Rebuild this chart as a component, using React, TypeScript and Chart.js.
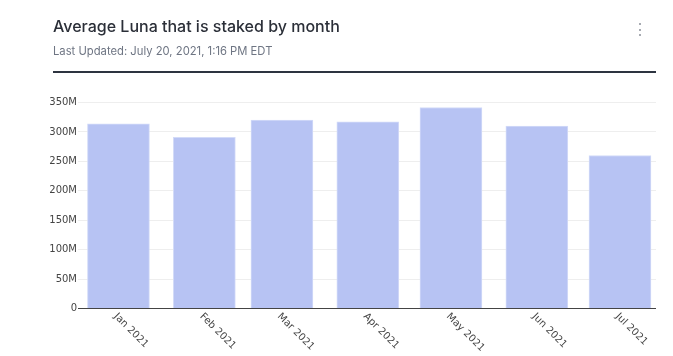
import React, { useEffect, useRef } from "react";
import { Chart, registerables } from "chart.js";

Chart.register(...registerables);

const TITLE = "Average Luna that is staked by month";
const SUBTITLE = "Last Updated: July 20, 2021, 1:16 PM EDT";

const monthDates = ["2021-01-01", "2021-02-01", "2021-03-01", "2021-04-01", "2021-05-01", "2021-06-01", "2021-07-01"];
const monthLabels = ["Jan 2021", "Feb 2021", "Mar 2021", "Apr 2021", "May 2021", "Jun 2021", "Jul 2021"];
const stakedLuna = [313.6e6, 291e6, 320e6, 317e6, 341.5e6, 310e6, 260e6];
const yTickValues = [0, 50e6, 100e6, 150e6, 200e6, 250e6, 300e6, 350e6];
const yTickLabels = ["0", "50M", "100M", "150M", "200M", "250M", "300M", "350M"];

const DAY = 86400000;
const baseTime = Date.UTC(2021, 0, 1);
const dayOffset = (d: string) => {
  const [y, m, dd] = d.split("-").map(Number);
  return (Date.UTC(y, m - 1, dd) - baseTime) / DAY;
};
const xValues = monthDates.map(dayOffset);

const TICK_FONT = "10px 'DejaVu Sans', Verdana, sans-serif";
const TICK_COLOR = "#444444";

const xLabelPlugin = {
  id: "xLabelPlugin",
  afterDraw(chart: any) {
    const ctx = chart.ctx;
    const xs = chart.scales.x;
    const bottom = chart.chartArea.bottom;
    ctx.save();
    ctx.font = TICK_FONT;
    ctx.fillStyle = TICK_COLOR;
    ctx.textAlign = "left";
    ctx.textBaseline = "middle";
    xValues.forEach((v, i) => {
      const px = xs.getPixelForValue(v);
      ctx.save();
      ctx.translate(px - 3, bottom + 6.5);
      ctx.rotate(Math.PI / 4);
      ctx.fillText(monthLabels[i], 0, 0);
      ctx.restore();
    });
    ctx.restore();
  },
};

function ChartCanvas() {
  const ref = useRef<HTMLCanvasElement | null>(null);
  useEffect(() => {
    if (!ref.current) return;
    const chart = new Chart(ref.current, {
      type: "bar",
      data: {
        datasets: [
          {
            data: xValues.map((x, i) => ({ x, y: stakedLuna[i] })),
            backgroundColor: "#b7c3f3",
            borderColor: "#d3dbf8",
            borderWidth: 1,
            barThickness: 62,
          },
        ],
      },
      options: {
        animation: false,
        responsive: false,
        devicePixelRatio: 1,
        layout: { padding: { left: 0, right: 17, top: 96.6, bottom: 0 } },
        plugins: { legend: { display: false }, tooltip: { enabled: false } },
        scales: {
          x: {
            type: "linear",
            offset: false,
            min: -14.6,
            max: 194,
            grid: { display: false },
            border: { display: false },
            ticks: { display: false },
            afterFit: (s: any) => {
              s.height = 47.5;
            },
          },
          y: {
            min: 0,
            max: 360e6,
            border: { display: false },
            grid: {
              drawTicks: false,
              color: (c: any) => (c.tick && c.tick.value === 0 ? "#444444" : "#eeeeee"),
              lineWidth: 1,
            },
            afterBuildTicks: (s: any) => {
              s.ticks = yTickValues.map((value) => ({ value }));
            },
            afterFit: (s: any) => {
              s.width = 78;
            },
            ticks: {
              padding: 1,
              color: TICK_COLOR,
              font: { family: "'DejaVu Sans', Verdana, sans-serif", size: 10 },
              callback: (v: any) => {
                const idx = yTickValues.indexOf(Number(v));
                return idx >= 0 ? yTickLabels[idx] : "";
              },
            },
          },
        },
      },
      plugins: [xLabelPlugin],
    });
    return () => chart.destroy();
  }, []);
  return <canvas ref={ref} width={673} height={356} style={{ position: "absolute", left: 0, top: 0 }} />;
}

export default function App() {
  return (
    <div
      style={{
        position: "fixed",
        left: 0,
        top: 0,
        width: 673,
        height: 356,
        background: "#ffffff",
        overflow: "hidden",
        fontFamily: "Inter, 'Noto Sans', sans-serif",
      }}
    >
      <ChartCanvas />
      <div
        style={{
          position: "absolute",
          left: 53,
          top: 17.5,
          fontSize: 16,
          fontWeight: 500,
          lineHeight: "16px",
          color: "#2b2f38",
          whiteSpace: "nowrap",
        }}
      >
        {TITLE}
      </div>
      <div
        style={{
          position: "absolute",
          left: 53,
          top: 45.5,
          fontSize: 11.25,
          lineHeight: "11px",
          color: "#6e7583",
          whiteSpace: "nowrap",
        }}
      >
        {SUBTITLE}
      </div>
      <div style={{ position: "absolute", left: 53, top: 71, width: 603, height: 2, background: "#2d3440" }} />
      {[23, 28.5, 34].map((t) => (
        <div
          key={t}
          style={{ position: "absolute", left: 638.5, top: t, width: 2, height: 2, borderRadius: 1, background: "#8a8f98" }}
        />
      ))}
    </div>
  );
}
